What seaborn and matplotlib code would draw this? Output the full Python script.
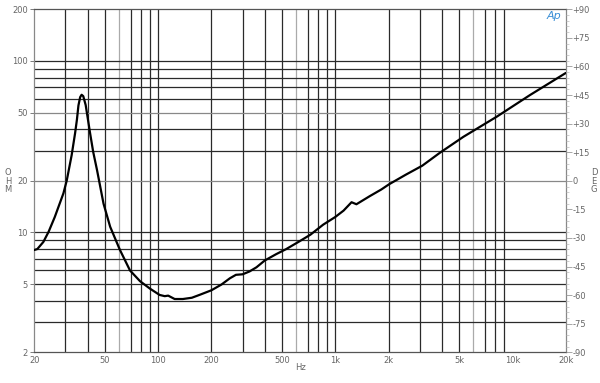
import numpy as np
import pandas as pd
import matplotlib
matplotlib.use("Agg")
import matplotlib.pyplot as plt
from matplotlib.ticker import FixedLocator, NullFormatter, NullLocator
import seaborn as sns

# ---- data ----
freq_hz = [20, 20.8, 22.5, 24.1, 26.1, 29.2, 30.5, 32.5, 34.0, 34.8, 35.5, 36.3, 37, 37.8,
           39.0, 40.2, 41.2, 43.0, 45.2, 49.2, 53.6, 60.9, 69.4, 79, 90, 102, 109, 114, 124, 138,
           155, 172, 200, 228, 254, 275, 300, 328, 359, 400, 464, 529, 631, 724,
           855, 1000, 1114, 1236, 1317, 1570, 1820, 2015, 2500, 3100, 3890, 5290,
           8160, 12590, 20000]
impedance_ohm = [7.9, 8.0, 8.8, 10.1, 12.3, 16.9, 20.1, 28.2, 38.0, 45.4, 55.0, 61.5, 63.5, 62.3,
                 55.3, 45.3, 38.5, 29.5, 23.1, 14.7, 10.8, 7.9, 6.0, 5.2, 4.7, 4.32, 4.25, 4.28, 4.09, 4.09,
                 4.16, 4.33, 4.6, 4.97, 5.4, 5.66, 5.7, 5.92, 6.26, 6.86, 7.47, 8.0, 8.9, 9.7,
                 11.1, 12.3, 13.4, 15.0, 14.6, 16.3, 17.8, 19.1, 21.7, 24.5, 29.1, 36.1,
                 47.3, 63.3, 85]

x_tick_values = [20, 50, 100, 200, 500, 1000, 2000, 5000, 10000, 20000]
x_tick_labels = ["20", "50", "100", "200", "500", "1k", "2k", "5k", "10k", "20k"]
y_tick_values = [2, 5, 10, 20, 50, 100, 200]
y_tick_labels = ["2", "5", "10", "20", "50", "100", "200"]
deg_tick_values = list(range(-90, 91, 15))
deg_tick_labels = [("+%d" % v) if v > 0 else ("%d" % v) for v in deg_tick_values]

df = pd.DataFrame({"Hz": freq_hz, "Ohm": impedance_ohm})

sns.set_style("white")
plt.rcParams["font.family"] = ["DejaVu Sans"]

fig = plt.figure(figsize=(6.0, 3.83), dpi=100)
ax = fig.add_axes([34.3 / 600, 1 - 352.3 / 383, (565.7 - 34.3) / 600, (352.3 - 9.3) / 383])

ax.set_xscale("log")
ax.set_yscale("log")
ax.set_xlim(20, 20000)
ax.set_ylim(2, 200)

# grid lines (standard log grid)
grid_dark = "#2a2a2a"
grid_light = "#aaaaaa"
xgrid = [m * d for d in (10, 100, 1000) for m in range(1, 10)]
xgrid = [v for v in xgrid if 20 < v < 20000]
for v in xgrid:
    col = grid_light if v in (60, 600, 6000) else grid_dark
    ax.axvline(v, color=col, lw=0.9, zorder=1)
ygrid = [m * d for d in (1, 10, 100) for m in range(1, 10)]
ygrid = [v for v in ygrid if 2 < v < 200]
for v in ygrid:
    col = "#888888" if v in (20, 50) else grid_dark
    ax.axhline(v, color=col, lw=0.9, zorder=1)

sns.lineplot(data=df, x="Hz", y="Ohm", ax=ax, color="black", lw=1.6, zorder=3,
             legend=False, sort=True)

ax.set_xlabel("")
ax.set_ylabel("")
ax.xaxis.set_major_locator(FixedLocator(x_tick_values))
ax.set_xticklabels(x_tick_labels)
ax.xaxis.set_minor_locator(NullLocator())
ax.yaxis.set_major_locator(FixedLocator(y_tick_values))
ax.set_yticklabels(y_tick_labels)
ax.yaxis.set_minor_locator(NullLocator())
ax.tick_params(axis="both", which="major", labelsize=6, colors="#666666",
               labelcolor="#666666", length=3, width=0.6, pad=1.5)
ax.tick_params(axis="x", length=0, pad=3)

for side in ["left", "bottom", "top", "right"]:
    ax.spines[side].set_color("#555555")
    ax.spines[side].set_linewidth(0.9)
ax.spines["right"].set_color("#888888")
ax.spines["left"].set_color("#888888")

ax2 = ax.twinx()
ax2.set_ylim(-90, 90)
ax2.yaxis.set_major_locator(FixedLocator(deg_tick_values))
ax2.set_yticklabels(deg_tick_labels)
ax2.yaxis.set_minor_locator(FixedLocator(list(range(-90, 91, 3))))
ax2.yaxis.set_minor_formatter(NullFormatter())
ax2.tick_params(axis="y", which="major", labelsize=6, colors="#999999",
                labelcolor="#666666", length=4, width=0.6, pad=1)
ax2.tick_params(axis="y", which="minor", colors="#bbbbbb", length=2, width=0.5)
for side in ["left", "bottom", "top", "right"]:
    ax2.spines[side].set_visible(False)

txt_col = "#666666"
for i, ch in enumerate("OHM"):
    fig.text(8 / 600, 1 - (173 + 8 * i) / 383, ch, fontsize=6, color=txt_col,
             ha="center", va="center")
for i, ch in enumerate("DEG"):
    fig.text(594 / 600, 1 - (173 + 8 * i) / 383, ch, fontsize=6, color=txt_col,
             ha="center", va="center")
fig.text(300 / 600, 1 - 368 / 383, "Hz", fontsize=6, color=txt_col,
         ha="center", va="center")
fig.text(554 / 600, 1 - 16 / 383, "Ap", fontsize=8, color="#3b8fd6",
         style="italic", ha="center", va="center")

fig.savefig("out.png", dpi=100, facecolor="white")
